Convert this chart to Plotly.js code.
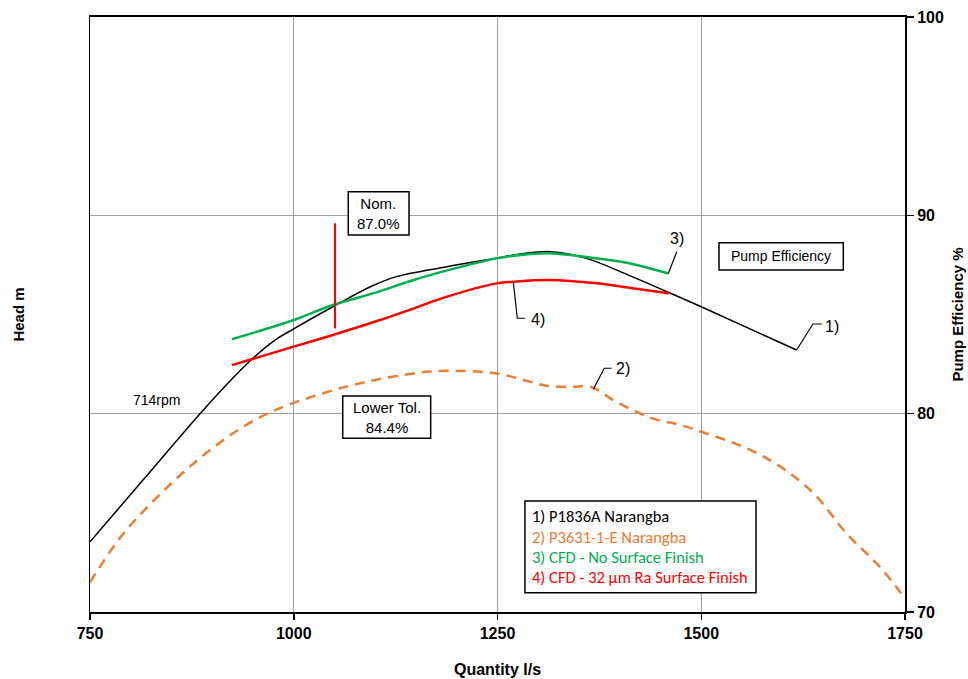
<!DOCTYPE html>
<html>
<head>
<meta charset="utf-8">
<script src="https://cdn.plot.ly/plotly-3.0.1.min.js"></script>
<style>html,body{margin:0;padding:0;background:#fff;}#chart{width:968px;height:679px;}</style>
</head>
<body>
<div id="chart"></div>
<script>
// ---- Data ----
const seriesNames = ['1) P1836A Narangba', '2) P3631-1-E Narangba', '3) CFD - No Surface Finish', '4) CFD - 32 \u00b5m Ra Surface Finish'];

const p1836Q   = [750, 815, 885, 923, 952, 977, 1001, 1048, 1094, 1126, 1188, 1250, 1270, 1314, 1359, 1410, 1458, 1500, 1617];
const p1836Eff = [73.54, 76.65, 80.0, 81.7, 82.87, 83.71, 84.3, 85.39, 86.4, 86.91, 87.41, 87.85, 88.0, 88.17, 87.83, 87.0, 86.15, 85.39, 83.21];

const p3631Q   = [750, 788, 829, 870, 911, 952, 993, 1057, 1090, 1126, 1167, 1208, 1249, 1282, 1310, 1340, 1364, 1392, 1420, 1445, 1474, 1500, 1556, 1597, 1638, 1678, 1719, 1750];
const p3631Eff = [71.5, 73.8, 75.65, 77.24, 78.59, 79.68, 80.44, 81.28, 81.61, 81.9, 82.12, 82.15, 82.03, 81.7, 81.41, 81.35, 81.36, 80.69, 80.1, 79.7, 79.43, 79.09, 78.25, 77.33, 75.98, 73.97, 72.28, 70.69];

const cfdNoQ   = [924, 1000, 1048, 1100, 1147, 1200, 1249, 1290, 1314, 1359, 1410, 1460];
const cfdNoEff = [83.75, 84.72, 85.48, 86.1, 86.74, 87.35, 87.83, 88.05, 88.09, 87.9, 87.6, 87.07];

const cfd32Q   = [924, 1000, 1048, 1106, 1150, 1188, 1249, 1269, 1314, 1372, 1420, 1460];
const cfd32Eff = [82.45, 83.38, 83.97, 84.72, 85.35, 85.9, 86.57, 86.65, 86.74, 86.57, 86.3, 86.07];

// nominal duty marker (vertical red line)
const nomQ   = [1050.6, 1050.6];
const nomEff = [89.6, 84.3];

// leader lines for the series labels
const leader1Q = [1617, 1637, 1648], leader1E = [83.21, 84.52, 84.52];
const leader2Q = [1367.6, 1381, 1390], leader2E = [81.23, 82.29, 82.29];
const leader3Q = [1459.6, 1470], leader3E = [87.07, 88.17];
const leader4Q = [1269.4, 1274.3, 1283.7], leader4E = [86.65, 84.81, 84.81];

const xTicks = [750, 1000, 1250, 1500, 1750];
const yTicks = [70, 80, 90, 100];

// ---- Styles ----
const cBlack = '#000000', cOrange = '#ED7D31', cGreen = '#00B050', cRed = '#FF0000';
const sp = {shape: 'spline', smoothing: 1};

const traces = [
  {x: p1836Q, y: p1836Eff, mode: 'lines', line: Object.assign({color: cBlack, width: 1.5}, sp), name: seriesNames[0]},
  {x: p3631Q, y: p3631Eff, mode: 'lines', line: Object.assign({color: cOrange, width: 2.5, dash: '10px,7px'}, sp), name: seriesNames[1]},
  {x: cfdNoQ, y: cfdNoEff, mode: 'lines', line: Object.assign({color: cGreen, width: 2.5}, sp), name: seriesNames[2]},
  {x: cfd32Q, y: cfd32Eff, mode: 'lines', line: Object.assign({color: cRed, width: 2.5}, sp), name: seriesNames[3]},
  {x: nomQ, y: nomEff, mode: 'lines', line: {color: cRed, width: 2}, name: 'Nom.'},
  {x: leader1Q, y: leader1E, mode: 'lines', line: {color: cBlack, width: 1.2}},
  {x: leader2Q, y: leader2E, mode: 'lines', line: {color: cBlack, width: 1.2}},
  {x: leader3Q, y: leader3E, mode: 'lines', line: {color: cBlack, width: 1.2}},
  {x: leader4Q, y: leader4E, mode: 'lines', line: {color: cBlack, width: 1.2}},
  // invisible trace to activate the right-hand axis
  {x: [750], y: [70], yaxis: 'y2', mode: 'markers', marker: {opacity: 0}, hoverinfo: 'skip'}
];

const arial = 'Arial, "Liberation Sans", sans-serif';
const calibri = 'Carlito, Calibri, Lato, "Open Sans", sans-serif';

const boxLine = {color: '#000', width: 1.5};
const shapes = [
  {type: 'rect', xref: 'x', yref: 'y', x0: 1066.9, x1: 1141.4, y0: 89.01, y1: 91.19, line: boxLine, fillcolor: '#fff', layer: 'above'},
  {type: 'rect', xref: 'x', yref: 'y', x0: 1060.1, x1: 1168.0, y0: 78.76, y1: 80.89, line: boxLine, fillcolor: '#fff', layer: 'above'},
  {type: 'rect', xref: 'x', yref: 'y', x0: 1521.8, x1: 1674.3, y0: 87.24, y1: 88.62, line: boxLine, fillcolor: '#fff', layer: 'above'},
  {type: 'rect', xref: 'x', yref: 'y', x0: 1283.7, x1: 1567.2, y0: 70.97, y1: 75.60, line: boxLine, fillcolor: '#fff', layer: 'above'}
];

const txt = (x, y, text, opts) => Object.assign({x, y, xref: 'x', yref: 'y', text, showarrow: false,
  font: {family: arial, size: 15, color: '#000'}}, opts || {});

const legendColors = [cBlack, cOrange, cGreen, cRed];
const legendY = [74.86, 73.80, 72.79, 71.75];

const annotations = [
  txt(1104.1, 90.1, 'Nom.<br>87.0%'),
  txt(1114, 79.83, 'Lower Tol.<br>84.4%'),
  txt(831.8, 80.69, '714rpm', {font: {family: arial, size: 14, color: '#000'}}),
  txt(1598, 87.93, 'Pump Efficiency', {font: {family: arial, size: 14, color: '#000'}}),
  txt(1660, 84.4, '1)', {font: {family: arial, size: 16, color: '#000'}}),
  txt(1404.4, 82.26, '2)', {font: {family: arial, size: 16, color: '#000'}}),
  txt(1469.8, 88.84, '3)', {font: {family: arial, size: 16, color: '#000'}}),
  txt(1300, 84.74, '4)', {font: {family: arial, size: 16, color: '#000'}})
];
seriesNames.forEach((n, i) => {
  annotations.push(txt(1289.9, legendY[i], n, {xanchor: 'left', yanchor: 'middle',
    font: {family: calibri, size: 16.5, color: legendColors[i]}}));
});

const layout = {
  width: 968, height: 679,
  margin: {l: 90, r: 63, t: 17, b: 67, pad: 0},
  paper_bgcolor: '#fff', plot_bgcolor: '#fff',
  showlegend: false,
  xaxis: {
    range: [750, 1750], tickvals: xTicks, ticktext: xTicks.map(String),
    showgrid: true, gridcolor: '#A0A0A0', gridwidth: 1,
    zeroline: false, showline: true, linecolor: '#000', linewidth: 2, mirror: true,
    ticks: 'outside', ticklen: 6, tickcolor: '#000', tickwidth: 1.5,
    tickfont: {family: arial, size: 16, color: '#000', weight: 'bold'},
    title: {text: 'Quantity l/s', font: {family: arial, size: 16, color: '#000', weight: 'bold'}, standoff: 23},
    automargin: false
  },
  yaxis: {
    range: [70, 100], tickvals: yTicks, showticklabels: false, ticks: '',
    showgrid: true, gridcolor: '#A0A0A0', gridwidth: 1,
    zeroline: false, showline: true, linecolor: '#000', linewidth: 1.5,
    title: {text: 'Head m', font: {family: arial, size: 15, color: '#000', weight: 'bold'}, standoff: 60},
    automargin: false
  },
  yaxis2: {
    overlaying: 'y', side: 'right', range: [70, 100], tickvals: yTicks,
    showgrid: false, zeroline: false, showline: true, linecolor: '#000', linewidth: 2,
    ticks: 'outside', ticklen: 7, tickcolor: '#000', tickwidth: 1.5,
    tickfont: {family: arial, size: 16, color: '#000', weight: 'bold'},
    title: {text: 'Pump Efficiency %', font: {family: arial, size: 15, color: '#000', weight: 'bold'}, standoff: 10},
    automargin: false
  },
  shapes: shapes,
  annotations: annotations
};

Plotly.newPlot('chart', traces, layout, {staticPlot: true, displayModeBar: false});
</script>
</body>
</html>
